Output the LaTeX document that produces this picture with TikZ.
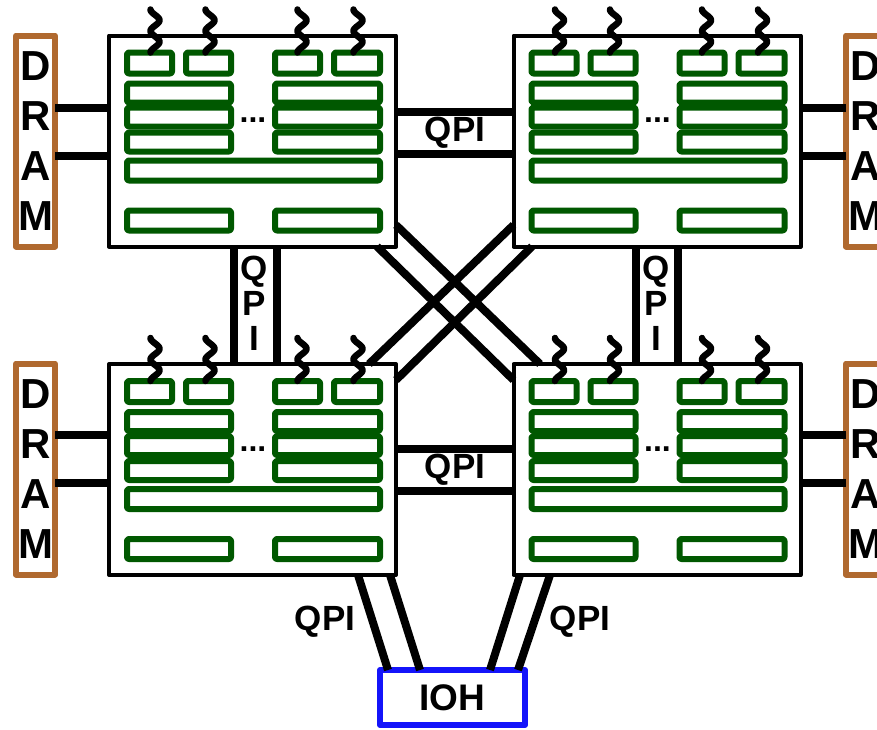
\documentclass[tikz,border=0pt]{standalone}
\usepackage{fontspec}
\setmainfont{Liberation Sans}
\definecolor{cgreen}{RGB}{0,88,0}
\definecolor{cbrown}{RGB}{176,105,47}
\definecolor{cblue}{RGB}{20,20,250}
\tikzset{
  socket/.style={draw, line width=4pt, fill=white, minimum width=287pt, minimum height=211pt, inner sep=0pt, outer sep=0pt},
  unit/.style={draw=cgreen, line width=6pt, rounded corners=2pt},
  wire/.style={line width=6.5pt, line cap=round},
  link/.style={line width=8pt},
  dram/.style={draw=cbrown, fill=white, line width=6pt, minimum width=39pt, minimum height=211pt, inner sep=0pt, outer sep=0pt, align=center, font=\fontsize{42}{50}\selectfont\bfseries},
  ioh/.style={draw=cblue, fill=white, line width=6pt, minimum width=145pt, minimum height=55pt, inner sep=0pt, outer sep=0pt, font=\fontsize{37}{37}\selectfont\bfseries},
  lbl/.style={font=\fontsize{35}{35}\selectfont\bfseries, inner sep=0pt},
  vlbl/.style={lbl, align=center},
  dots/.style={font=\fontsize{32}{32}\selectfont\bfseries, inner sep=0pt, anchor=base}
}
% cores, caches and wires inside one socket
\newcommand{\socketparts}[1]{%
  \begin{scope}[shift={(#1.north west)}]
    \foreach \a/\b in {18/63,77/122,166/211,225/271}
      \draw[unit] (\a,17) rectangle (\b,38);
    \foreach \a/\b in {18/122,166/271} {
      \draw[unit] (\a,48) rectangle (\b,67);
      \draw[unit] (\a,72) rectangle (\b,91);
      \draw[unit] (\a,97) rectangle (\b,116);
      \draw[unit] (\a,175) rectangle (\b,195);
    }
    \draw[unit] (18,125) rectangle (271,145);
    \node[dots] (#1dots) at (144,87) {...};
    \foreach \c in {46,101,193,249}
      \draw[wire] plot[domain=0:4, samples=41] ({\c-4.5*cos(180*\x)}, {-26+10.75*\x});
  \end{scope}}

\begin{document}
\begin{tikzpicture}[x=1pt, y=-1pt, line join=round]
  \useasboundingbox (0,0) rectangle (877,729);
  \clip (0,0) rectangle (877,729);

  % sockets
  \node[socket] (s1) at (252.5,141) {};
  \node[socket] (s2) at (657,141) {};
  \node[socket] (s3) at (252.5,469.5) {};
  \node[socket] (s4) at (657,469.5) {};
  \socketparts{s1}
  \socketparts{s2}
  \socketparts{s3}
  \socketparts{s4}

  % memory and hub
  \node[dram] (d1) at (35.5,141) {D\\R\\A\\M};
  \node[dram] (d2) at (865.5,141) {D\\R\\A\\M};
  \node[dram] (d3) at (35.5,469) {D\\R\\A\\M};
  \node[dram] (d4) at (865.5,469) {D\\R\\A\\M};
  \node[ioh] (ioh) at (452.5,697.5) {IOH};

  % memory channels
  \foreach \y in {33,-15} {
    \draw[link] ([yshift=\y]d1.east) -- ([yshift=\y]d1.east -| s1.west);
    \draw[link] ([yshift=\y]d2.west) -- ([yshift=\y]d2.west -| s2.east);
  }
  \foreach \y in {34,-14} {
    \draw[link] ([yshift=\y]d3.east) -- ([yshift=\y]d3.east -| s3.west);
    \draw[link] ([yshift=\y]d4.west) -- ([yshift=\y]d4.west -| s4.east);
  }

  % QPI links
  \foreach \y in {29,-13}
    \draw[link] ([yshift=\y]s1.east) -- ([yshift=\y]s1.east -| s2.west);
  \foreach \y in {20.5,-21.5}
    \draw[link] ([yshift=\y]s3.east) -- ([yshift=\y]s3.east -| s4.west);
  \foreach \x in {-18.5,24.5}
    \draw[link] ([xshift=\x]s1.south) -- ([xshift=\x]s1.south |- s3.north);
  \foreach \x in {-21,21}
    \draw[link] ([xshift=\x]s2.south) -- ([xshift=\x]s2.south |- s4.north);
  \draw[link] ([yshift=-84]s1.east) -- ([xshift=-117]s4.north);
  \draw[link] ([xshift=124.5]s1.south) -- ([yshift=89.5]s4.west);
  \draw[link] ([yshift=-84]s2.west) -- ([xshift=116.5]s3.north);
  \draw[link] ([xshift=-125]s2.south) -- ([yshift=89.5]s3.east);
  \draw[link] ([xshift=105.5]s3.south) -- ([xshift=-64.5]ioh.north);
  \draw[link] ([xshift=137.5]s3.south) -- ([xshift=-32.5]ioh.north);
  \draw[link] ([xshift=-137]s4.south) -- ([xshift=37.5]ioh.north);
  \draw[link] ([xshift=-107]s4.south) -- ([xshift=65.5]ioh.north);

  % labels
  \node[lbl] (q12) at (455,133) {QPI};
  \node[lbl] (q34) at (455,470) {QPI};
  \node[vlbl] (q13) at (254,303) {Q\\P\\I};
  \node[vlbl] (q24) at (656,303) {Q\\P\\I};
  \node[lbl] (q3h) at (325,622) {QPI};
  \node[lbl] (q4h) at (580,622) {QPI};
\end{tikzpicture}
\end{document}
